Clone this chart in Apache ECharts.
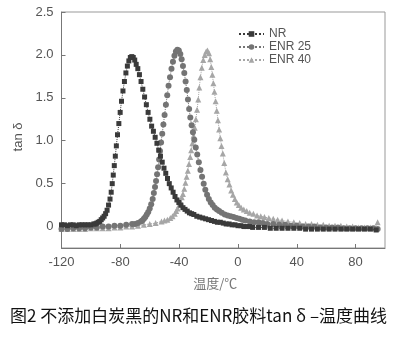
<!DOCTYPE html>
<html>
<head>
<meta charset="utf-8">
<script src="https://cdn.jsdelivr.net/npm/echarts@6/dist/echarts.min.js"></script>
<style>
  html, body { margin: 0; padding: 0; background: #fff; }
  #chart { width: 397px; height: 339px; }
</style>
</head>
<body>
<div id="chart"></div>
<script>
// Axis tick values
const xTicks = [-120, -80, -40, 0, 40, 80];
const yTicks = [0, 0.5, 1.0, 1.5, 2.0, 2.5];

// Series names
const seriesNames = ['NR', 'ENR 25', 'ENR 40'];

// NR: temperature (°C) and tan δ
const nrTemp = [-120, -118, -116, -114, -112, -110, -108, -106, -104, -102, -100, -98, -97, -96, -95, -94, -93, -92, -91, -90, -89, -88, -87, -86.2, -85.5, -84.8, -84.1, -83.4, -82.7, -81.9, -81, -80.1, -79.2, -78.2, -77.2, -76.2, -75.2, -74.2, -73.2, -72.2, -71.2, -70.2, -69.2, -68.1, -67, -65.9, -64.7, -63.5, -62.3, -61.1, -59.9, -58.7, -57.5, -56.3, -55.1, -53.9, -52.7, -51.5, -50.3, -49.1, -47.9, -46.7, -45.4, -44.1, -42.8, -41.5, -40.2, -38.8, -37.4, -36, -34.5, -33, -31.5, -30, -28, -26, -24, -22, -20, -18, -16, -14, -12, -10, -8, -6, -4, -2, 0, 2, 4, 6, 8, 10, 14, 18, 22, 26, 30, 34, 38, 42, 46, 50, 54, 58, 62, 66, 70, 74, 78, 82, 86, 90, 94];
const nrTan = [0.02, 0.02, 0.01, 0.02, 0.02, 0.01, 0.02, 0.02, 0.02, 0.02, 0.02, 0.03, 0.03, 0.04, 0.05, 0.06, 0.08, 0.10, 0.12, 0.15, 0.19, 0.25, 0.32, 0.40, 0.50, 0.60, 0.71, 0.82, 0.94, 1.07, 1.20, 1.33, 1.46, 1.58, 1.69, 1.79, 1.87, 1.93, 1.97, 1.98, 1.97, 1.94, 1.89, 1.84, 1.77, 1.69, 1.60, 1.51, 1.42, 1.33, 1.25, 1.17, 1.11, 1.04, 0.97, 0.89, 0.82, 0.75, 0.68, 0.62, 0.56, 0.50, 0.45, 0.40, 0.35, 0.31, 0.28, 0.25, 0.22, 0.20, 0.18, 0.16, 0.15, 0.14, 0.12, 0.11, 0.10, 0.09, 0.08, 0.07, 0.06, 0.05, 0.05, 0.04, 0.03, 0.03, 0.02, 0.02, 0.01, 0.01, 0.00, 0.00, 0.00, -0.01, -0.01, -0.01, -0.02, -0.02, -0.02, -0.02, -0.02, -0.02, -0.03, -0.03, -0.03, -0.03, -0.03, -0.03, -0.03, -0.03, -0.03, -0.03, -0.03, -0.03, -0.04];

// ENR 25
const enr25Temp = [-120, -116, -112, -108, -104, -100, -96, -92, -88, -84, -80, -76, -72, -70, -68, -66, -65, -64, -63, -62, -61, -60, -59, -58, -57.2, -56.4, -55.7, -55, -54.3, -53.6, -53, -52.3, -51.5, -50.7, -49.9, -49, -48.1, -47.2, -46.2, -45.2, -44.2, -43.2, -42.2, -41.2, -40.2, -39.2, -38.3, -37.4, -36.5, -35.6, -34.8, -34, -33.2, -32.4, -31.5, -30.6, -29.7, -28.7, -27.7, -26.6, -25.5, -24.4, -23.3, -22.2, -21, -19.8, -18.5, -17.2, -15.8, -14.3, -12.8, -11, -9, -7, -5, -3, -1, 1, 3, 5, 8, 11, 14, 17, 20, 24, 28, 32, 36, 40, 44, 48, 52, 56, 60, 64, 68, 72, 76, 80, 84, 88, 92, 95];
const enr25Tan = [-0.03, -0.03, -0.02, -0.02, -0.02, -0.01, -0.01, 0.00, 0.00, 0.01, 0.01, 0.02, 0.03, 0.03, 0.04, 0.06, 0.07, 0.09, 0.11, 0.14, 0.17, 0.21, 0.26, 0.32, 0.39, 0.46, 0.53, 0.61, 0.69, 0.78, 0.88, 0.98, 1.08, 1.19, 1.30, 1.42, 1.53, 1.64, 1.74, 1.84, 1.92, 1.99, 2.04, 2.06, 2.05, 2.01, 1.95, 1.87, 1.79, 1.69, 1.59, 1.48, 1.37, 1.27, 1.18, 1.10, 1.01, 0.92, 0.84, 0.75, 0.66, 0.58, 0.50, 0.43, 0.37, 0.32, 0.28, 0.25, 0.22, 0.20, 0.18, 0.16, 0.14, 0.13, 0.12, 0.11, 0.10, 0.09, 0.08, 0.07, 0.06, 0.05, 0.05, 0.04, 0.03, 0.03, 0.02, 0.02, 0.01, 0.01, 0.00, 0.00, 0.00, -0.01, -0.01, -0.01, -0.01, -0.02, -0.02, -0.02, -0.02, -0.02, -0.02, -0.03];

// ENR 40
const enr40Temp = [-120, -116, -112, -108, -104, -100, -96, -92, -88, -84, -80, -76, -72, -68, -64, -60, -56, -52, -50, -48, -46, -44.5, -43, -42, -41, -40, -39, -38.2, -37.4, -36.5, -35.7, -34.9, -34.1, -33.3, -32.5, -31.8, -31, -30.2, -29.4, -28.6, -27.8, -27, -26.3, -25.5, -24.6, -23.6, -22.6, -21.6, -20.7, -19.7, -18.9, -18.1, -17.4, -16.7, -16, -15.2, -14.4, -13.6, -12.8, -12, -11.2, -10.3, -9.3, -8.2, -7, -5.8, -4.6, -3.4, -2.1, -0.8, 0.6, 2.2, 4, 6, 8, 10.5, 13, 15.5, 18, 21, 24, 27, 30, 34, 38, 42, 46, 50, 54, 58, 62, 66, 70, 74, 78, 82, 86, 90, 93, 95];
const enr40Tan = [-0.03, -0.03, -0.03, -0.03, -0.03, -0.02, -0.02, -0.02, -0.02, -0.01, -0.01, 0.00, 0.00, 0.01, 0.02, 0.03, 0.04, 0.06, 0.07, 0.08, 0.10, 0.12, 0.15, 0.18, 0.21, 0.25, 0.29, 0.34, 0.38, 0.44, 0.51, 0.58, 0.65, 0.73, 0.81, 0.89, 0.97, 1.06, 1.15, 1.25, 1.36, 1.48, 1.62, 1.74, 1.85, 1.94, 2.00, 2.04, 2.05, 2.02, 1.95, 1.86, 1.77, 1.67, 1.57, 1.46, 1.35, 1.24, 1.13, 1.03, 0.94, 0.85, 0.74, 0.63, 0.55, 0.49, 0.42, 0.37, 0.32, 0.28, 0.25, 0.22, 0.20, 0.18, 0.16, 0.15, 0.13, 0.12, 0.11, 0.10, 0.09, 0.08, 0.07, 0.06, 0.05, 0.04, 0.03, 0.03, 0.02, 0.02, 0.01, 0.01, 0.01, 0.00, 0.00, -0.01, -0.01, -0.01, -0.02, 0.05];

function pairs(xs, ys) {
  return xs.map((x, i) => [x, ys[i]]);
}

const chart = echarts.init(document.getElementById('chart'), null, { renderer: 'canvas' });

const axisText = { color: '#555', fontSize: 13, fontFamily: 'Liberation Sans, Arial, sans-serif' };

function lineSeries(name, data, symbol, size, color, z) {
  return {
    name: name,
    type: 'line',
    data: data,
    symbol: symbol,
    symbolSize: size,
    showSymbol: true,
    z: z,
    itemStyle: { color: color },
    lineStyle: { color: color, width: 1, type: 'dotted' },
    emphasis: { disabled: true }
  };
}

chart.setOption({
  animation: false,
  backgroundColor: '#fff',
  title: {
    text: '图2 不添加白炭黑的NR和ENR胶料tan δ –温度曲线',
    left: 'center',
    top: 302,
    textStyle: { fontSize: 17, fontWeight: 'normal', color: '#111', fontFamily: 'Noto Sans CJK SC, sans-serif' }
  },
  legend: {
    data: seriesNames,
    orient: 'vertical',
    left: 233,
    top: 23,
    itemWidth: 25,
    itemHeight: 7,
    itemGap: 1,
    textStyle: { color: '#555', fontSize: 12, fontFamily: 'Liberation Sans, Arial, sans-serif' }
  },
  grid: {
    left: 61.5, right: 12, top: 12, bottom: 91,
    show: true, borderColor: '#999', borderWidth: 1, backgroundColor: 'transparent'
  },
  xAxis: {
    type: 'value',
    min: -120, max: 100, interval: 40,
    name: '温度/℃',
    nameLocation: 'middle',
    nameGap: 29,
    nameTextStyle: { color: '#777', fontSize: 13, fontFamily: 'Noto Sans CJK SC, sans-serif', padding: [0, 16, 0, 0] },
    axisLine: { show: true, onZero: false, lineStyle: { color: '#777' } },
    axisTick: { show: true, inside: true, length: 4, lineStyle: { color: '#777' }, customValues: xTicks },
    axisLabel: Object.assign({ margin: 8, customValues: xTicks }, axisText),
    splitLine: { show: false }
  },
  yAxis: {
    type: 'value',
    min: -0.25, max: 2.5,
    name: 'tan δ',
    nameLocation: 'middle',
    nameRotate: 90,
    nameGap: 28,
    nameTextStyle: { color: '#555', fontSize: 13, fontFamily: 'Liberation Sans, Arial, sans-serif', padding: [0, 14, 0, 0] },
    axisLine: { show: true, onZero: false, lineStyle: { color: '#777' } },
    axisTick: { show: true, inside: true, length: 4, lineStyle: { color: '#777' }, customValues: yTicks },
    axisLabel: Object.assign({
      margin: 8,
      customValues: yTicks,
      formatter: v => (v === 0 ? '0' : v.toFixed(1))
    }, axisText),
    splitLine: { show: false }
  },
  series: [
    lineSeries('ENR 40', pairs(enr40Temp, enr40Tan), 'triangle', 6, '#a6a6a6', 2),
    lineSeries('ENR 25', pairs(enr25Temp, enr25Tan), 'circle', 6, '#747474', 3),
    lineSeries('NR', pairs(nrTemp, nrTan), 'rect', 5, '#3a3a3a', 4)
  ]
});
</script>
</body>
</html>
